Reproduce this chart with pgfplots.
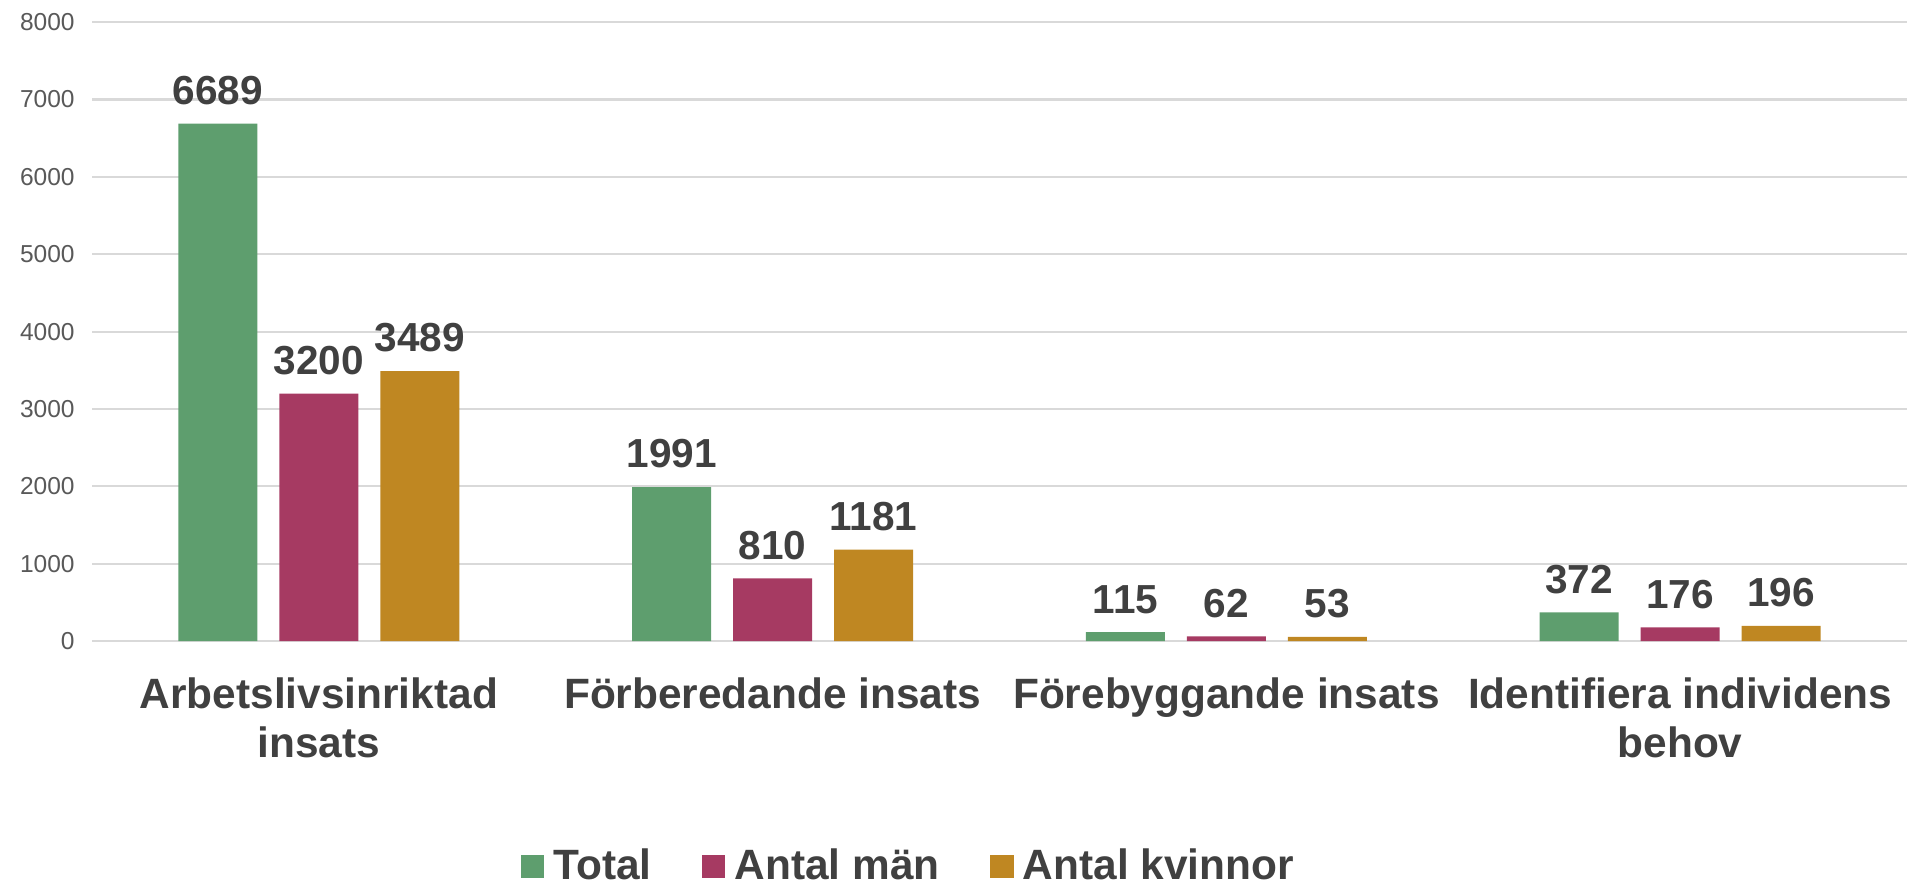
\documentclass[border=0pt]{standalone}
\usepackage{pgfplots}
\pgfplotsset{compat=1.18}
\usepackage{fontspec}
\setmainfont{Liberation Sans}
\definecolor{cgreen}{HTML}{5E9E6E}
\definecolor{cmag}{HTML}{A63A62}
\definecolor{cgold}{HTML}{BF8722}
\definecolor{lbl}{HTML}{404040}
\definecolor{tck}{HTML}{595959}
\definecolor{grd}{HTML}{D9D9D9}
\begin{document}
\begin{tikzpicture}
\begin{axis}[
 scale only axis, width=680.6pt, height=232.1pt,
 xmin=-0.5, xmax=3.5, ymin=0, ymax=8000,
 ytick={0,1000,...,8000},
 xtick={0,1,2,3},
 xticklabels={{Arbetslivsinriktad\\insats},{Förberedande insats},{Förebyggande insats},{Identifiera individens\\behov}},
 ybar=8.25pt, bar width=29.6pt,
 axis line style={draw=none},
 tick style={draw=none},
 ymajorgrids, grid style={grd, line width=0.8pt},
 /pgf/number format/assume math mode=true,
 /pgf/number format/1000 sep={},
 scaled y ticks=false,
 yticklabel style={font=\fontsize{9.2}{10}\selectfont, text=tck, xshift=-3pt},
 xticklabel style={font=\fontsize{15.9}{18.4}\selectfont\bfseries, text=lbl, align=center, yshift=-6pt},
 nodes near coords,
 nodes near coords style={font=\fontsize{15.2}{16}\selectfont\bfseries, text=lbl, yshift=3.5pt},
 legend style={at={(0.4507,-0.3635)}, anchor=center, draw=none, legend columns=3,
   font=\fontsize{15.9}{18}\selectfont\bfseries, text=lbl,
   /tikz/every even column/.append style={column sep=17pt},
   /tikz/every odd column/.append style={column sep=1.5pt}},
 legend image code/.code={\fill[#1, draw=none] (0pt,-4.4pt) rectangle (8.7pt,4.3pt);},
]
\addplot[fill=cgreen, draw=none] coordinates {(0,6689) (1,1991) (2,115) (3,372)};
\addplot[fill=cmag, draw=none] coordinates {(0,3200) (1,810) (2,62) (3,176)};
\addplot[fill=cgold, draw=none] coordinates {(0,3489) (1,1181) (2,53) (3,196)};
\legend{Total, Antal män, Antal kvinnor}
\end{axis}
\pgfresetboundingbox
\path (-34.5pt,-91.9pt) rectangle (680.6pt,240.4pt);
\end{tikzpicture}
\end{document}
